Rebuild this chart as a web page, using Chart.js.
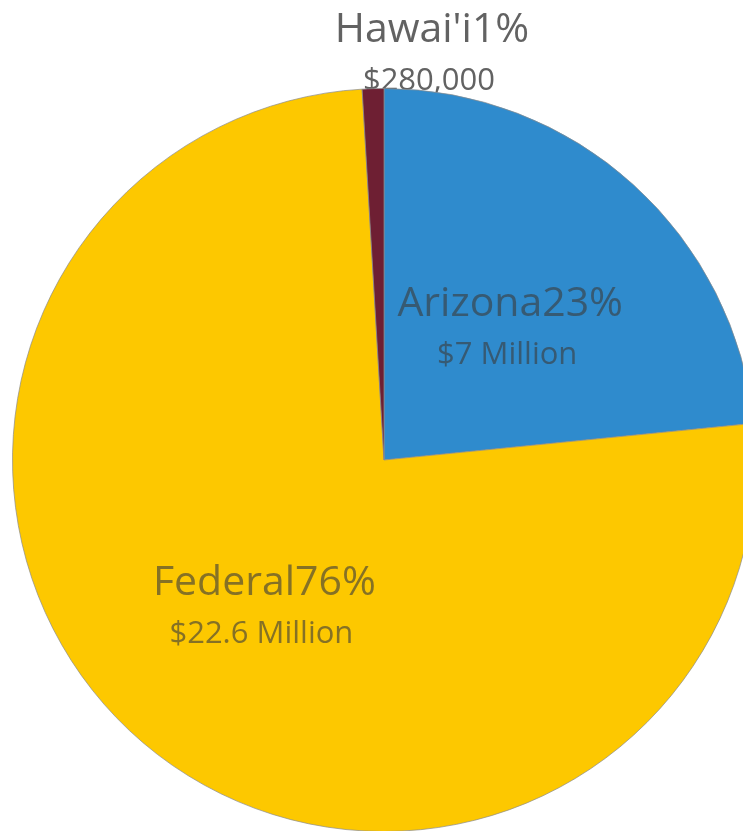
<!DOCTYPE html>
<html>
<head>
<meta charset="utf-8">
<script src="https://cdn.jsdelivr.net/npm/chart.js@4.4.1/dist/chart.umd.min.js"></script>
<style>
  html, body { margin: 0; padding: 0; background: #fff; overflow: hidden; }
  #wrap { position: relative; width: 760px; height: 840px; }
</style>
</head>
<body>
<div id="wrap"><canvas id="fundChart" width="760" height="840"></canvas></div>
<script>
// Funding sources
const sources = ["Arizona", "Federal", "Hawai'i"];
const amounts = [7, 22.6, 0.28]; // $ millions
const amountLabels = ["$7 Million", "$22.6 Million", "$280,000"];
const colors = ["#2f8bcd", "#fdc800", "#6e1f33"];

// label placement: distance from centre (fraction of radius) + nudge
const labelPos = [
    { r: 0.49, dx: 4, dy: 5 },
    { r: 0.50, dx: 1, dy: 8 },
    { r: 1.10, dx: 60, dy: 5 }
];

const total = amounts.reduce((a, b) => a + b, 0);

function drawLabel(chart, i) {
    const ctx = chart.ctx;
    const arc = chart.getDatasetMeta(0).data[i];
    const p = arc.getProps(['x', 'y', 'startAngle', 'endAngle', 'outerRadius'], true);
    const mid = (p.startAngle + p.endAngle) / 2;
    const d = p.outerRadius * labelPos[i].r;
    const x = p.x + Math.cos(mid) * d + labelPos[i].dx;
    const y = p.y + Math.sin(mid) * d + labelPos[i].dy;
    const pct = Math.round(amounts[i] / total * 100);
    const inside = labelPos[i].r < 1;
    ctx.save();
    ctx.textAlign = 'center';
    ctx.textBaseline = 'middle';
    ctx.fillStyle = inside ? 'rgba(60,60,60,0.62)' : 'rgba(70,70,70,0.85)';
    ctx.font = '41px "Open Sans"';
    ctx.fillText(sources[i] + pct + '%', x, y - 26);
    ctx.font = '31px "Open Sans"';
    ctx.fillText(amountLabels[i], x - 3, y + 25);
    ctx.restore();
}

// outside labels go under the pie, inside ones on top
const sliceLabels = {
    id: 'sliceLabels',
    beforeDatasetsDraw(chart) {
        labelPos.forEach((lp, i) => { if (lp.r >= 1) drawLabel(chart, i); });
    },
    afterDatasetsDraw(chart) {
        labelPos.forEach((lp, i) => { if (lp.r < 1) drawLabel(chart, i); });
    }
};

const data = {
    labels: sources,
    datasets: [{
        data: amounts,
        backgroundColor: colors,
        borderColor: 'rgba(140,140,140,0.7)',
        borderWidth: 1
    }]
};

const config = {
    type: 'pie',
    data: data,
    options: {
        responsive: false,
        animation: false,
        rotation: 0,
        layout: {
            padding: { left: 12, top: 88, right: 4, bottom: 8 }
        },
        plugins: {
            legend: { display: false },
            tooltip: { enabled: false }
        }
    },
    plugins: [sliceLabels]
};

const fundChart = new Chart(document.getElementById('fundChart'), config);
</script>
</body>
</html>
